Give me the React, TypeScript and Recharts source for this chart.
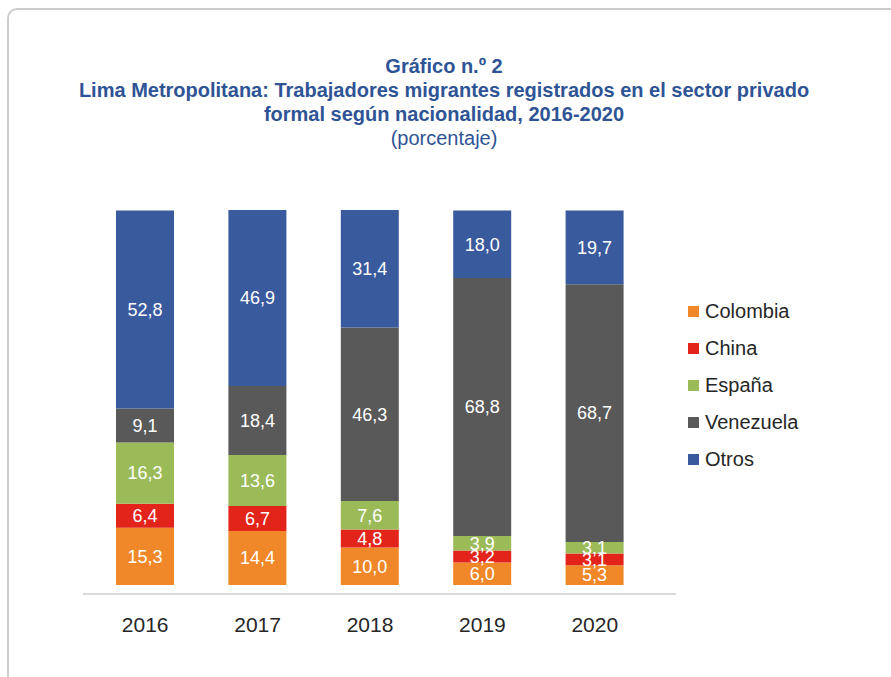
import React from "react";
import { BarChart, Bar, XAxis, YAxis, LabelList } from "recharts";

const years = ["2016", "2017", "2018", "2019", "2020"];
const colombia = [15.3, 14.4, 10.0, 6.0, 5.3];
const china = [6.4, 6.7, 4.8, 3.2, 3.1];
const espana = [16.3, 13.6, 7.6, 3.9, 3.1];
const venezuela = [9.1, 18.4, 46.3, 68.8, 68.7];
const otros = [52.8, 46.9, 31.4, 18.0, 19.7];

const series = [
  { key: "colombia", name: "Colombia", color: "#F0882A" },
  { key: "china", name: "China", color: "#E2241B" },
  { key: "espana", name: "España", color: "#9BBB59" },
  { key: "venezuela", name: "Venezuela", color: "#595959" },
  { key: "otros", name: "Otros", color: "#3A5A9E" },
];

const data = years.map((year, i) => ({
  year,
  colombia: colombia[i],
  china: china[i],
  espana: espana[i],
  venezuela: venezuela[i],
  otros: otros[i],
}));

const fmt = (v: any) => Number(v).toFixed(1).replace(".", ",");

const TITLE_BLUE = "#2F5496";
const SANS = "'Liberation Sans', Arial, sans-serif";

export default function App() {
  return (
    <div
      style={{
        position: "absolute",
        left: 0,
        top: 0,
        width: 891,
        height: 677,
        overflow: "hidden",
        background: "#fff",
      }}
    >
      <div
        style={{
          position: "absolute",
          left: 7,
          top: 8,
          width: 1000,
          height: 1000,
          border: "2px solid #cccccc",
          borderRadius: 10,
        }}
      />
      <div
        style={{
          position: "absolute",
          left: 0,
          top: 54,
          width: 888,
          textAlign: "center",
          color: TITLE_BLUE,
          fontFamily: "'Liberation Sans Narrow', 'Arial Narrow', sans-serif",
          fontSize: 20,
          lineHeight: "24px",
        }}
      >
        <div style={{ fontWeight: "bold" }}>Gráfico n.º 2</div>
        <div style={{ fontWeight: "bold" }}>
          Lima Metropolitana: Trabajadores migrantes registrados en el sector privado
        </div>
        <div style={{ fontWeight: "bold" }}>formal según nacionalidad, 2016-2020</div>
        <div>(porcentaje)</div>
      </div>

      {/* legend, same order as the stack (bottom series first) */}
      <div style={{ position: "absolute", left: 688, top: 293 }}>
        {series.map((s) => (
          <div key={s.key} style={{ display: "flex", alignItems: "center", height: 37 }}>
            <span
              style={{
                display: "inline-block",
                width: 11,
                height: 11,
                background: s.color,
                marginRight: 6,
              }}
            />
            <span style={{ fontSize: 20, color: "#262626", fontFamily: SANS }}>{s.name}</span>
          </div>
        ))}
      </div>

      <div style={{ position: "absolute", left: 0, top: 0 }}>
        <BarChart
          width={891}
          height={677}
          data={data}
          barSize={58}
          margin={{ top: 210, right: 215, bottom: 43, left: 83 }}
        >
          <XAxis
            dataKey="year"
            height={40}
            padding={{ left: 6, right: 25 }}
            axisLine={{ stroke: "#d9d9d9", strokeWidth: 2 }}
            tickLine={false}
            tickSize={0}
            tickMargin={23}
            tick={{ fontSize: 21, fill: "#262626", fontFamily: SANS }}
          />
          <YAxis hide type="number" domain={[-2.4, 100]} allowDataOverflow />
          {series.map((s) => (
            <Bar
              key={s.key}
              dataKey={s.key}
              name={s.name}
              stackId="a"
              fill={s.color}
              isAnimationActive={false}
            >
              <LabelList
                dataKey={s.key}
                position="center"
                formatter={fmt}
                fill="#ffffff"
                fontSize={18}
                fontFamily={SANS}
              />
            </Bar>
          ))}
        </BarChart>
      </div>
    </div>
  );
}
